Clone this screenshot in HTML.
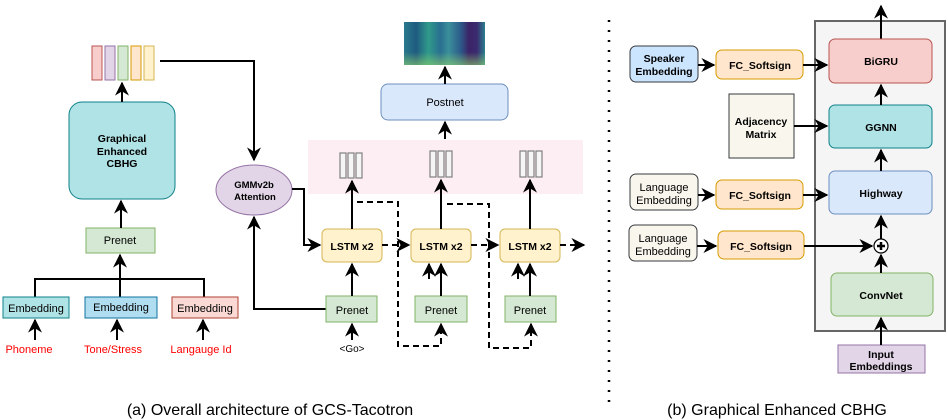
<!DOCTYPE html>
<html><head><meta charset="utf-8"><style>html,body{margin:0;padding:0;background:#fff}svg{display:block}</style></head><body>
<svg width="948" height="420" viewBox="0 0 948 420" xmlns="http://www.w3.org/2000/svg" font-family="Liberation Sans, Arial, sans-serif">
<defs>
<marker id="a" viewBox="0 0 10 10" refX="9" refY="5" markerWidth="7" markerHeight="7" orient="auto"><path d="M0,0 L10,5 L0,10 L3,5 z" fill="#000"/></marker>
<linearGradient id="sp" x1="0" x2="1"><stop offset="0" stop-color="#2a7a8c"/><stop offset="0.15" stop-color="#1f5a80"/><stop offset="0.3" stop-color="#2f9a8a"/><stop offset="0.45" stop-color="#2a6f90"/><stop offset="0.55" stop-color="#3a8f9a"/><stop offset="0.7" stop-color="#2c5a8a"/><stop offset="0.8" stop-color="#3b2466"/><stop offset="0.9" stop-color="#3b2a70"/><stop offset="1" stop-color="#2b7f8e"/></linearGradient>
<linearGradient id="sv" x1="0" x2="0" y1="0" y2="1"><stop offset="0.7" stop-color="#8fd16a" stop-opacity="0"/><stop offset="1" stop-color="#8fd16a" stop-opacity="0.6"/></linearGradient>
</defs>
<g stroke-width="2" fill="none" stroke="#000">
<rect x="92" y="46" width="10" height="34" fill="#f8cecc" stroke="#b85450" stroke-width="1"/>
<rect x="105" y="46" width="10" height="34" fill="#e1d5e7" stroke="#9673a6" stroke-width="1"/>
<rect x="118" y="46" width="10" height="34" fill="#d5e8d4" stroke="#82b366" stroke-width="1"/>
<rect x="131" y="46" width="10" height="34" fill="#ffe6cc" stroke="#d79b00" stroke-width="1"/>
<rect x="144" y="46" width="10" height="34" fill="#fff2cc" stroke="#d6b656" stroke-width="1"/>
<rect x="69" y="102" width="106" height="97" rx="13" fill="#b0e3e6" stroke="#0e8088" stroke-width="1"/>
<rect x="86" y="228" width="69" height="25" fill="#d5e8d4" stroke="#82b366" stroke-width="1"/>
<line x1="122" y1="102" x2="122" y2="83" marker-end="url(#a)"/>
<line x1="121" y1="228" x2="121" y2="201" marker-end="url(#a)"/>
<path d="M35,297 V279 H204 V297"/>
<line x1="120" y1="297" x2="120" y2="255" marker-end="url(#a)"/>
<rect x="3" y="297" width="66" height="21" fill="#b0e3e6" stroke="#0e8088" stroke-width="1"/>
<rect x="85" y="297" width="72" height="21" fill="#b1ddf0" stroke="#10739e" stroke-width="1"/>
<rect x="172" y="297" width="66" height="21" fill="#fad9d5" stroke="#ae4132" stroke-width="1"/>
<line x1="35" y1="340" x2="35" y2="320" marker-end="url(#a)"/>
<line x1="117" y1="340" x2="117" y2="320" marker-end="url(#a)"/>
<line x1="203" y1="340" x2="203" y2="320" marker-end="url(#a)"/>
<path d="M160,61 H254 V160" marker-end="url(#a)"/>
<ellipse cx="254" cy="190" rx="38" ry="25" fill="#e1d5e7" stroke="#9673a6" stroke-width="1"/>
<path d="M292,189 H304 V245 H320" marker-end="url(#a)"/>
<path d="M326,309 H254 V217" marker-end="url(#a)"/>
<rect x="404" y="22" width="81" height="43" fill="url(#sp)" stroke="none"/>
<rect x="404" y="22" width="81" height="43" fill="url(#sv)" stroke="none"/>
<rect x="381" y="84" width="127" height="36" rx="7" fill="#dae8fc" stroke="#6c8ebf" stroke-width="1"/>
<line x1="445" y1="84" x2="445" y2="67" marker-end="url(#a)"/>
<rect x="308" y="140" width="275" height="54" fill="#fdeef3" stroke="none"/>
<line x1="445" y1="139" x2="445" y2="122" marker-end="url(#a)"/>
<g stroke="#808080" stroke-width="1.2" fill="#f5f5f5">
<rect x="340" y="153" width="6" height="25"/><rect x="348" y="153" width="6" height="25"/><rect x="356" y="153" width="6" height="25"/>
<rect x="430" y="151" width="6" height="26"/><rect x="438" y="151" width="6" height="26"/><rect x="446" y="151" width="6" height="26"/>
<rect x="520" y="151" width="6" height="26"/><rect x="528" y="151" width="6" height="26"/><rect x="536" y="151" width="6" height="26"/>
</g>
<g fill="#fff2cc" stroke="#d6b656" stroke-width="1">
<rect x="322" y="229" width="60" height="33" rx="5"/><rect x="411" y="229" width="60" height="33" rx="5"/><rect x="500" y="229" width="60" height="33" rx="5"/>
</g>
<g fill="#d5e8d4" stroke="#82b366" stroke-width="1">
<rect x="326" y="296" width="51" height="26"/><rect x="415" y="296" width="52" height="26"/><rect x="505" y="296" width="51" height="26"/>
</g>
<line x1="352" y1="229" x2="352" y2="181" marker-end="url(#a)"/>
<line x1="441" y1="229" x2="441" y2="180" marker-end="url(#a)"/>
<line x1="530" y1="229" x2="530" y2="180" marker-end="url(#a)"/>
<line x1="352" y1="296" x2="352" y2="264" marker-end="url(#a)"/>
<line x1="441" y1="296" x2="441" y2="264" marker-end="url(#a)"/>
<line x1="530" y1="296" x2="530" y2="264" marker-end="url(#a)"/>
<line x1="429" y1="279" x2="429" y2="264" marker-end="url(#a)"/>
<line x1="518" y1="279" x2="518" y2="264" marker-end="url(#a)"/>
<line x1="352" y1="340" x2="352" y2="324" marker-end="url(#a)"/>
<g stroke-dasharray="6,4">
<line x1="382" y1="245" x2="409" y2="245" marker-end="url(#a)"/>
<line x1="471" y1="245" x2="498" y2="245" marker-end="url(#a)"/>
<line x1="560" y1="245" x2="584" y2="245" marker-end="url(#a)"/>
<path d="M357,202 H398 V346 H441 V324" marker-end="url(#a)"/>
<path d="M447,204 H489 V348 H531 V324" marker-end="url(#a)"/>
</g>
<line x1="609" y1="20" x2="609" y2="406" stroke-dasharray="2,8" stroke-width="2.5"/>
<rect x="815" y="21" width="130" height="310" fill="#f5f5f5" stroke="#666"/>
<line x1="881" y1="39" x2="881" y2="6" marker-end="url(#a)"/>
<rect x="829" y="39" width="103" height="44" rx="6" fill="#f8cecc" stroke="#b85450" stroke-width="1"/>
<rect x="829" y="105" width="103" height="43" rx="6" fill="#b0e3e6" stroke="#0e8088" stroke-width="1"/>
<rect x="829" y="171" width="103" height="43" rx="6" fill="#dae8fc" stroke="#6c8ebf" stroke-width="1"/>
<rect x="831" y="273" width="102" height="43" rx="6" fill="#d5e8d4" stroke="#82b366" stroke-width="1"/>
<rect x="838" y="345" width="87" height="28" fill="#e1d5e7" stroke="#9673a6" stroke-width="1"/>
<circle cx="881" cy="246" r="7" fill="#fff" stroke="#000" stroke-width="1.2"/>
<path d="M877,246 H885 M881,242 V250" stroke-width="2.5"/>
<line x1="881" y1="345" x2="881" y2="318" marker-end="url(#a)"/>
<line x1="881" y1="273" x2="881" y2="255" marker-end="url(#a)"/>
<line x1="881" y1="239" x2="881" y2="216" marker-end="url(#a)"/>
<line x1="881" y1="171" x2="881" y2="150" marker-end="url(#a)"/>
<line x1="881" y1="105" x2="881" y2="85" marker-end="url(#a)"/>
<rect x="630" y="46" width="68" height="36" rx="6" fill="#cce5ff" stroke="#36393d" stroke-width="1"/>
<rect x="716" y="50" width="87" height="29" rx="6" fill="#ffe6cc" stroke="#d79b00" stroke-width="1"/>
<rect x="729" y="94" width="65" height="64" fill="#f9f7ed" stroke="#36393d" stroke-width="1"/>
<rect x="630" y="174" width="68" height="36" rx="6" fill="#f9f7ed" stroke="#36393d" stroke-width="1"/>
<rect x="716" y="180" width="87" height="29" rx="6" fill="#ffe6cc" stroke="#d79b00" stroke-width="1"/>
<rect x="629" y="225" width="68" height="36" rx="6" fill="#f9f7ed" stroke="#36393d" stroke-width="1"/>
<rect x="718" y="231" width="86" height="28" rx="6" fill="#ffe6cc" stroke="#d79b00" stroke-width="1"/>
<line x1="698" y1="65" x2="714" y2="65" marker-end="url(#a)"/>
<line x1="803" y1="65" x2="827" y2="65" marker-end="url(#a)"/>
<line x1="794" y1="126" x2="827" y2="126" marker-end="url(#a)"/>
<line x1="698" y1="195" x2="714" y2="195" marker-end="url(#a)"/>
<line x1="803" y1="195" x2="827" y2="195" marker-end="url(#a)"/>
<line x1="697" y1="246" x2="716" y2="246" marker-end="url(#a)"/>
<line x1="804" y1="246" x2="872" y2="246" marker-end="url(#a)"/>
</g>
<g font-size="10.5" font-weight="bold" text-anchor="middle" fill="#000">
<text x="122" y="142">Graphical</text><text x="122" y="155">Enhanced</text><text x="122" y="167">CBHG</text>
<text x="120" y="244" font-weight="normal" font-size="11">Prenet</text>
<text x="36" y="312" font-weight="normal" font-size="11">Embedding</text>
<text x="121" y="311" font-weight="normal" font-size="11">Embedding</text>
<text x="205" y="312" font-weight="normal" font-size="11">Embedding</text>
<g fill="#ff0000" font-weight="normal" font-size="11"><text x="29" y="353">Phoneme</text><text x="113" y="353">Tone/Stress</text><text x="201" y="353">Langauge Id</text></g>
<text x="254" y="188" font-size="9.5">GMMv2b</text><text x="255" y="200" font-size="9.5">Attention</text>
<text x="445" y="106" font-weight="normal" font-size="11">Postnet</text>
<text x="352" y="250">LSTM x2</text><text x="441" y="250">LSTM x2</text><text x="530" y="250">LSTM x2</text>
<g font-weight="normal" font-size="11"><text x="352" y="314">Prenet</text><text x="441" y="314">Prenet</text><text x="530" y="314">Prenet</text></g>
<text x="352" y="352" font-weight="normal" font-size="10">&lt;Go&gt;</text>
<text x="881" y="65">BiGRU</text><text x="881" y="131">GGNN</text><text x="881" y="197">Highway</text><text x="881" y="299">ConvNet</text>
<text x="881" y="358">Input</text><text x="881" y="370">Embeddings</text>
<text x="664" y="62">Speaker</text><text x="664" y="75">Embedding</text>
<text x="760" y="69">FC_Softsign</text>
<text x="761" y="125">Adjacency</text><text x="761" y="138">Matrix</text>
<text x="664" y="191" font-weight="normal" font-size="11">Language</text><text x="664" y="204" font-weight="normal" font-size="11">Embedding</text>
<text x="760" y="199">FC_Softsign</text>
<text x="663" y="242" font-weight="normal" font-size="11">Language</text><text x="663" y="255" font-weight="normal" font-size="11">Embedding</text>
<text x="761" y="250">FC_Softsign</text>
</g>
<text x="270" y="415" font-size="16" text-anchor="middle">(a) Overall architecture of GCS-Tacotron</text>
<text x="777" y="415" font-size="16" text-anchor="middle">(b) Graphical Enhanced CBHG</text>
</svg>
</body></html>
